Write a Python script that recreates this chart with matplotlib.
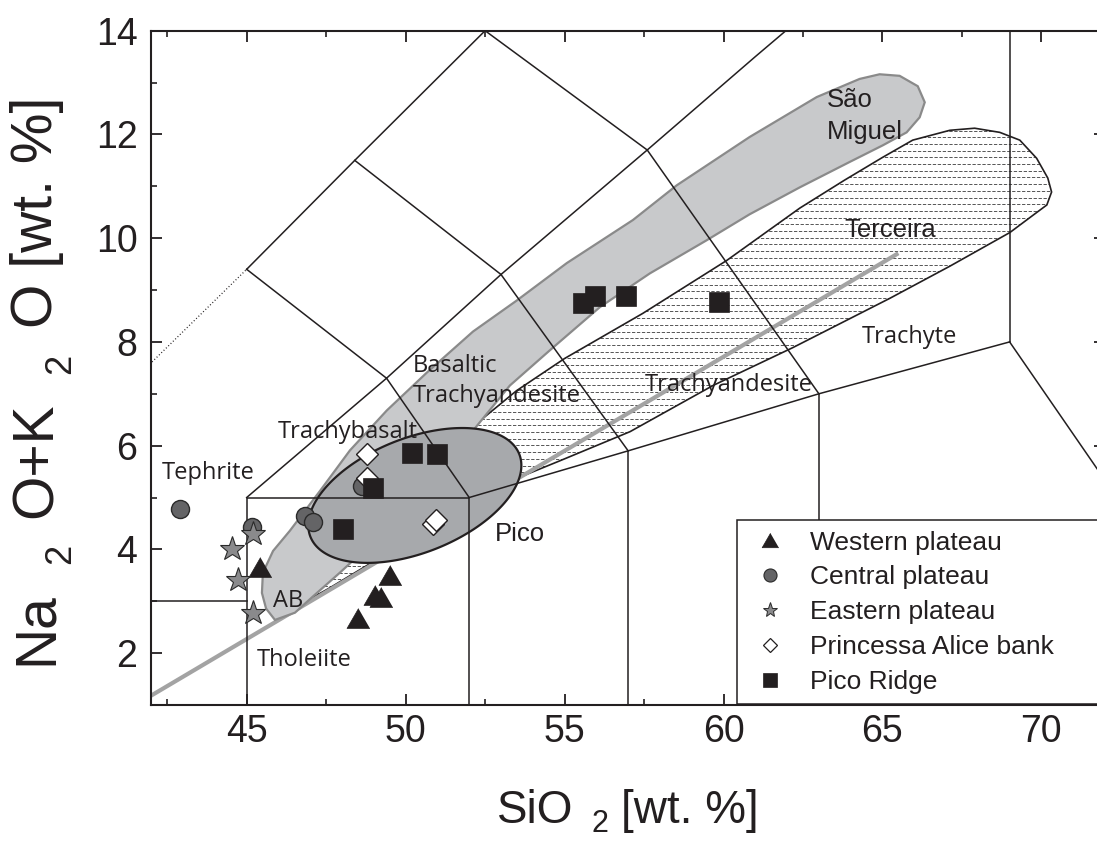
import numpy as np
import matplotlib
matplotlib.use("Agg")
import matplotlib.pyplot as plt
from matplotlib.patches import Polygon
from matplotlib.lines import Line2D
from matplotlib.ticker import MultipleLocator

# ---------------- data ----------------
western_sio2 = [45.42, 48.51, 49.03, 49.22, 49.50]
western_alk = [3.67, 2.68, 3.13, 3.09, 3.50]
central_sio2 = [42.91, 45.16, 46.83, 47.09, 48.62]
central_alk = [4.78, 4.43, 4.65, 4.52, 5.23]
eastern_sio2 = [45.21, 44.53, 44.74, 45.21]
eastern_alk = [4.30, 4.01, 3.41, 2.78]
alice_sio2 = [48.77, 48.77, 50.86, 50.95]
alice_alk = [5.38, 5.84, 4.49, 4.57]
ridge_sio2 = [50.21, 50.99, 48.98, 48.02, 55.95, 55.57, 56.93, 59.86]
ridge_alk = [5.85, 5.83, 5.19, 4.39, 8.89, 8.75, 8.89, 8.77]

legend_labels = ["Western plateau", "Central plateau", "Eastern plateau",
                 "Princessa Alice bank", "Pico Ridge"]

# TAS (Le Bas et al. 1986) boundaries, SiO2 / Na2O+K2O
tas_lines = [
    [(41, 3), (45, 3)],
    [(45, 0), (45, 5), (52, 5), (52, 0)],
    [(57, 0), (57, 5.9)],
    [(63, 0), (63, 7)],
    [(52, 5), (57, 5.9), (63, 7), (69, 8)],
    [(69, 8), (78, 0)],
    [(69, 8), (69, 15)],
    [(45, 5), (49.4, 7.3), (53, 9.3), (57.6, 11.7), (61, 13.5), (63.5, 14.8)],
    [(49.4, 7.3), (52, 5)],
    [(53, 9.3), (57, 5.9)],
    [(57.6, 11.7), (63, 7)],
    [(45, 9.4), (49.4, 7.3)],
    [(48.4, 11.5), (53, 9.3)],
    [(52.5, 14), (57.6, 11.7)],
    [(45, 9.4), (48.4, 11.5), (52.5, 14)],
]
tas_dotted = [(41, 7), (45, 9.4)]
alkaline_line = [(41, 0.82), (65.5, 9.71)]

sao_miguel_x = [45.89, 46.52, 47.08, 47.93, 49.19, 50.76, 52.12, 53.28, 54.54, 56.11,
                57.68, 59.47, 60.82, 62.40, 63.97, 65.01, 65.76, 66.17, 66.33, 66.11,
                65.54, 64.91, 64.28, 62.93, 60.82, 58.53, 57.15, 55.07, 53.50, 52.12,
                50.67, 49.41, 48.25, 47.31, 46.36, 45.83, 45.51, 45.48, 45.61]
sao_miguel_y = [2.64, 2.78, 3.09, 3.55, 4.26, 5.42, 6.29, 7.16, 7.84, 8.67,
                9.32, 9.96, 10.46, 10.98, 11.47, 11.79, 12.04, 12.33, 12.62, 12.93,
                13.13, 13.16, 13.07, 12.72, 11.95, 11.02, 10.35, 9.52, 8.80, 8.20,
                7.41, 6.68, 5.91, 5.13, 4.36, 3.97, 3.55, 3.16, 2.86]

terceira_x = [46.43, 47.93, 49.82, 52.34, 53.49, 55.00, 57.46, 60.10, 62.40, 63.81,
              65.01, 65.95, 67.12, 67.90, 68.69, 69.32, 69.85, 70.20, 70.32, 70.17,
              69.73, 69.01, 67.12, 65.23, 62.18, 59.67, 57.06, 54.86, 53.50, 51.39,
              49.19, 47.62, 46.84]
terceira_y = [2.80, 3.69, 4.84, 6.48, 7.06, 7.68, 8.55, 9.57, 10.58, 11.12,
              11.56, 11.89, 12.08, 12.12, 12.04, 11.89, 11.54, 11.16, 10.89, 10.64,
              10.44, 10.11, 9.46, 8.84, 7.89, 7.16, 6.27, 5.71, 5.37, 4.65,
              3.84, 3.26, 2.99]

pico_center = (50.29, 5.04)
pico_semi_axes_px = (112.3, 57.3)
pico_angle_deg = 21.6

# ---------------- figure ----------------
W, H = 1097, 841
fig = plt.figure(figsize=(W / 100, H / 100), dpi=100)
ax_l, ax_r, ax_t, ax_b = 151.3, 1105.0, 30.7, 705.0
ax = fig.add_axes([ax_l / W, 1 - ax_b / H, (ax_r - ax_l) / W, (ax_b - ax_t) / H])
ax.set_xlim(42, 72)
ax.set_ylim(1, 14)

SANS = "Liberation Sans"
FIELD = "Open Sans"
INK = "#231f20"

# Terceira field (dashed horizontal hatch)
terc = Polygon(np.column_stack([terceira_x, terceira_y]), closed=True,
               facecolor="white", edgecolor="none", zorder=1)
ax.add_patch(terc)
px_per_y = ax.transData.transform((0, 1))[1] - ax.transData.transform((0, 0))[1]
px_per_x = ax.transData.transform((1, 0))[0] - ax.transData.transform((0, 0))[0]
hatch_step = 6.7 / px_per_y
for i, yy in enumerate(np.arange(2.0, 13.0, hatch_step)):
    ln, = ax.plot([44, 72], [yy, yy], color="#555555", lw=0.7, zorder=1.1,
                  linestyle=((1.7 * (i % 2)), (3.4, 1.7)))
    ln.set_clip_path(terc)
ax.add_patch(Polygon(np.column_stack([terceira_x, terceira_y]), closed=True,
                     facecolor="none", edgecolor=INK, lw=1.2, zorder=1.2))

# alkaline / subalkaline divider
ax.plot([p[0] for p in alkaline_line], [p[1] for p in alkaline_line],
        color="#a3a3a3", lw=3.0, zorder=1.5, solid_capstyle="butt")

# Sao Miguel field
ax.add_patch(Polygon(np.column_stack([sao_miguel_x, sao_miguel_y]), closed=True,
                     facecolor="#c8c9cb", edgecolor="#8a8a8a", lw=1.6, zorder=2))

# Pico ellipse
t = np.linspace(0, 2 * np.pi, 300)
a, b = pico_semi_axes_px
th = np.deg2rad(pico_angle_deg)
ex = pico_center[0] + (a * np.cos(t) * np.cos(th) - b * np.sin(t) * np.sin(th)) / px_per_x
ey = pico_center[1] + (a * np.cos(t) * np.sin(th) + b * np.sin(t) * np.cos(th)) / px_per_y
ax.add_patch(Polygon(np.column_stack([ex, ey]), closed=True, facecolor="#a7a9ac",
                     edgecolor=INK, lw=1.6, zorder=3))

# TAS lines
for seg in tas_lines:
    ax.plot([p[0] for p in seg], [p[1] for p in seg], color=INK, lw=1.1, zorder=4)
ax.plot([p[0] for p in tas_dotted], [p[1] for p in tas_dotted], color=INK,
        lw=0.9, ls=(0, (0.8, 1.8)), zorder=4)

# field labels
fkw = dict(fontsize=17, family=FIELD, color=INK, zorder=5, va="baseline")
ax.text(42.33, 5.36, "Tephrite", **fkw)
ax.text(45.99, 6.14, "Trachybasalt", **fkw)
ax.text(50.24, 7.42, "Basaltic", **fkw)
ax.text(50.24, 6.84, "Trachyandesite", **fkw)
ax.text(57.53, 7.06, "Trachyandesite", **fkw)
ax.text(64.34, 7.98, "Trachyte", **fkw)
ax.text(45.31, 1.75, "Tholeiite", **fkw)
ax.text(45.84, 2.89, "AB", **fkw)
skw = dict(fontsize=18.5, family=SANS, color=INK, zorder=5, va="baseline")
ax.text(52.81, 4.17, "Pico", **skw)
ax.text(63.24, 12.53, "São", **skw)
ax.text(63.24, 11.92, "Miguel", **skw)
ax.text(63.81, 10.02, "Terceira", **skw)

# markers
tri = [(0, 0.433), (-0.5, -0.433), (0.5, -0.433)]
styles = [
    dict(marker=tri, ms=16.5, mfc=INK, mec=INK, mew=0.5),
    dict(marker="o", ms=13, mfc="#646466", mec="#2a2a2a", mew=1.0),
    dict(marker="*", ms=18.5, mfc="#8a8a8c", mec="#2a2a2a", mew=0.8),
    dict(marker="D", ms=11.2, mfc="white", mec=INK, mew=1.0),
    dict(marker="s", ms=15, mfc=INK, mec=INK, mew=0.5),
]
series = [(western_sio2, western_alk), (central_sio2, central_alk),
          (eastern_sio2, eastern_alk), (alice_sio2, alice_alk), (ridge_sio2, ridge_alk)]
for i, ((xs, ys), st) in enumerate(zip(series, styles)):
    for xv, yv in zip(xs, ys):
        ax.plot([xv], [yv], ls="none", zorder=6 + i, **st)

# legend
leg_styles = [
    dict(marker=tri, ms=12, mfc=INK, mec=INK, mew=0.5),
    dict(marker="o", ms=9.4, mfc="#646466", mec="#2a2a2a", mew=0.8),
    dict(marker="*", ms=11, mfc="#8a8a8c", mec="#2a2a2a", mew=0.7),
    dict(marker="D", ms=6.8, mfc="white", mec=INK, mew=0.9),
    dict(marker="s", ms=9.4, mfc=INK, mec=INK, mew=0.5),
]
handles = [Line2D([], [], ls="none", **s) for s in leg_styles]
lx0 = (737.3 - ax_l) / (ax_r - ax_l)
ly1 = (ax_b - 520.0) / (ax_b - ax_t)
leg = ax.legend(handles, legend_labels, loc="upper left",
                bbox_to_anchor=(lx0, 0, 1 - lx0, ly1), mode="expand",
                borderaxespad=0, borderpad=0.4, handlelength=1.67, handletextpad=0.68,
                labelspacing=0.41, numpoints=1, fancybox=False, framealpha=1,
                edgecolor=INK, prop=dict(family=SANS, size=19))
leg.get_frame().set_linewidth(1.1)
leg.set_zorder(20)
for txt in leg.get_texts():
    txt.set_color(INK)

# axes styling
for sp in ax.spines.values():
    sp.set_linewidth(1.5)
    sp.set_color(INK)
ax.xaxis.set_major_locator(MultipleLocator(5))
ax.xaxis.set_minor_locator(MultipleLocator(2.5))
ax.yaxis.set_major_locator(MultipleLocator(2))
ax.yaxis.set_minor_locator(MultipleLocator(1))
ax.tick_params(which="both", direction="in", top=True, right=True, color=INK)
ax.tick_params(which="major", length=8, width=1.3, labelsize=27)
ax.tick_params(which="minor", length=4, width=1.2)
ax.tick_params(axis="x", which="major", pad=6.5)
ax.tick_params(axis="y", which="major", pad=10)
for lab in ax.get_xticklabels() + ax.get_yticklabels():
    lab.set_family(SANS)
    lab.set_color(INK)

# axis titles built from pieces (subscripts sit well below the baseline)
fig.canvas.draw()
rend = fig.canvas.get_renderer()


def chain_h(pieces, x0, y_base):
    x = x0
    for s, size, gap, drop in pieces:
        tt = fig.text(x / W, (H - y_base - drop) / H, s, fontsize=size, family=SANS,
                      color=INK, ha="left", va="baseline")
        bb = tt.get_window_extent(rend)
        x = bb.x1 + gap


def chain_v(pieces, x_base, y0):
    y = y0  # display coords (from bottom)
    for s, size, gap, drop in pieces:
        tt = fig.text((x_base + drop) / W, y / H, s, fontsize=size, family=SANS,
                      color=INK, ha="left", va="baseline", rotation=90,
                      rotation_mode="anchor")
        bb = tt.get_window_extent(rend)
        y = bb.y1 + gap


chain_h([("SiO", 33, 18, 0), ("2", 22, 13, 9), ("[wt. %]", 33, 0, 0)], 497, 823)
chain_v([("Na", 41, 28, 0), ("2", 26, 26, 18), ("O+K", 41, 28, 0), ("2", 26, 26, 18),
         ("O [wt. %]", 41, 0, 0)], 52, H - 665)

fig.savefig("out.png", dpi=100)
